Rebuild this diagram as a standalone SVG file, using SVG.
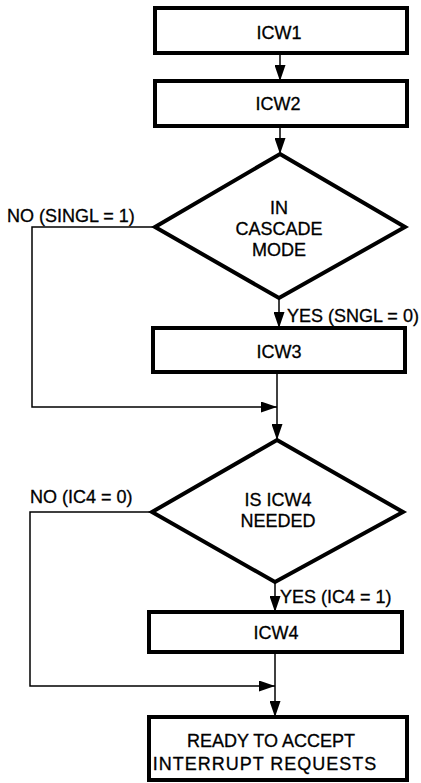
<svg xmlns="http://www.w3.org/2000/svg" width="421" height="783" viewBox="0 0 421 783">
<style>
.box{fill:#fff;stroke:#000;stroke-width:4}
.t{font-family:"Liberation Sans",Arial,sans-serif;font-size:18px;fill:#000;stroke:#000;stroke-width:0.3;text-anchor:middle;dominant-baseline:central}
.l{font-family:"Liberation Sans",Arial,sans-serif;font-size:18px;fill:#000;stroke:#000;stroke-width:0.3;dominant-baseline:central}
.c{fill:none;stroke:#000;stroke-width:1.5}
</style>
<defs>
<marker id="ah" markerUnits="userSpaceOnUse" markerWidth="16" markerHeight="11" refX="16" refY="5.5" orient="auto">
<path d="M0,0 L16,5.5 L0,11 z" fill="#000"/>
</marker>
</defs>
<rect width="421" height="783" fill="#fff"/>
<g id="connectors">
<line class="c" x1="280" y1="53" x2="280" y2="81" marker-end="url(#ah)"/>
<line class="c" x1="280" y1="126" x2="280" y2="154" marker-end="url(#ah)"/>
<line class="c" x1="279" y1="298" x2="279" y2="328" marker-end="url(#ah)"/>
<polyline class="c" points="155,227 32,227 32,407 277,407" marker-end="url(#ah)"/>
<line class="c" x1="277" y1="372" x2="277" y2="440" marker-end="url(#ah)"/>
<line class="c" x1="275" y1="582" x2="275" y2="612" marker-end="url(#ah)"/>
<polyline class="c" points="152,512 30,512 30,686 275,686" marker-end="url(#ah)"/>
<line class="c" x1="275" y1="652" x2="275" y2="717" marker-end="url(#ah)"/>
</g>
<g id="icw1">
<rect class="box" x="155" y="8" width="252" height="45"/>
<text class="t" x="279" y="33">ICW1</text>
</g>
<g id="icw2">
<rect class="box" x="155" y="81" width="252" height="45"/>
<text class="t" x="278" y="104">ICW2</text>
</g>
<g id="cascade">
<polygon class="box" points="280,154 405,227 279,298 155,227"/>
<text class="t" x="279" y="208">IN</text>
<text class="t" x="279" y="229">CASCADE</text>
<text class="t" x="279" y="250">MODE</text>
</g>
<g id="icw3">
<rect class="box" x="153" y="328" width="252" height="44"/>
<text class="t" x="279" y="352">ICW3</text>
</g>
<g id="icw4needed">
<polygon class="box" points="277,440 403,512 275,582 152,512"/>
<text class="t" x="278" y="500" font-size="17">IS ICW4</text>
<text class="t" x="278" y="521" font-size="17">NEEDED</text>
</g>
<g id="icw4">
<rect class="box" x="149" y="612" width="253" height="40"/>
<text class="t" x="276" y="633">ICW4</text>
</g>
<g id="ready">
<rect class="box" x="149" y="717" width="258" height="63"/>
<text class="t" x="271" y="741">READY TO ACCEPT</text>
<text class="t" x="265" y="764" letter-spacing="1">INTERRUPT REQUESTS</text>
</g>
<g id="labels">
<text class="l" x="7" y="216">NO (SINGL = 1)</text>
<text class="l" x="287" y="316">YES (SNGL = 0)</text>
<text class="l" x="30" y="497">NO (IC4 = 0)</text>
<text class="l" x="280" y="597">YES (IC4 = 1)</text>
</g>
</svg>
